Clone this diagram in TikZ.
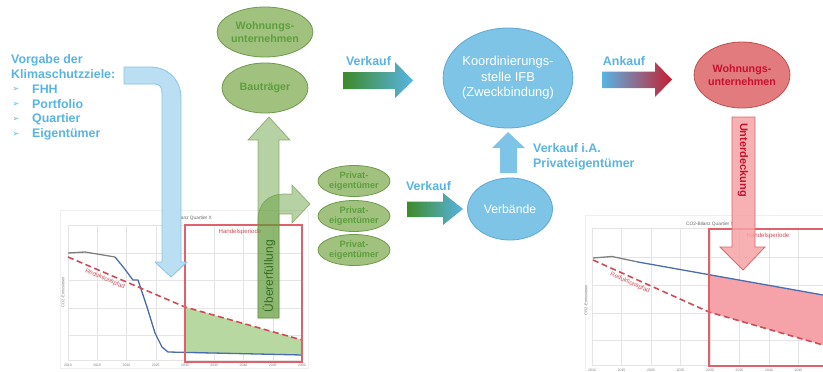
\documentclass[tikz,border=0pt]{standalone}
\usepackage{fontspec}
\setmainfont{Liberation Sans}
\newfontfamily\dejavu{DejaVu Sans}
\usetikzlibrary{shapes.geometric}
\definecolor{txtblue}{HTML}{58B4E4}
\definecolor{bfill}{HTML}{7DC4E7}
\definecolor{bdraw}{HTML}{5FA9D3}
\definecolor{lbfill}{HTML}{BADFF3}
\definecolor{lbdraw}{HTML}{86C4E6}
\definecolor{gfill}{HTML}{A0C27E}
\definecolor{gdraw}{HTML}{6E9A4C}
\definecolor{gtext}{HTML}{5E9E3E}
\definecolor{garrow}{HTML}{5F9A35}
\definecolor{gdark}{HTML}{3F8A2A}
\definecolor{rfill}{HTML}{E27B7D}
\definecolor{rdraw}{HTML}{C0504D}
\definecolor{rtext}{HTML}{C8102E}
\definecolor{rarrow}{HTML}{F6A4A6}
\definecolor{rarrowd}{HTML}{E06666}
\definecolor{rdark}{HTML}{C42030}
\definecolor{cred}{HTML}{D24A55}
\definecolor{rectred}{HTML}{E0606C}
\definecolor{cblue}{HTML}{4B6DB0}
\definecolor{cgray}{HTML}{7F7F7F}
\definecolor{gridc}{HTML}{E4E4E4}
\definecolor{greenarea}{HTML}{B7D8A0}
\definecolor{redarea}{HTML}{F5A3A8}
\begin{document}
\begin{tikzpicture}[x=1pt,y=-1pt,
  ell/.style={ellipse, inner sep=0pt, align=center, line width=0.8pt},
  gell/.style={ell, fill=gfill, draw=gdraw, text=gtext, font=\bfseries\fontsize{10.7}{13.5}\selectfont, minimum width=86pt, minimum height=50pt},
  pell/.style={ell, fill=gfill, draw=gdraw, text=gtext, font=\bfseries\fontsize{9.2}{10.5}\selectfont, minimum width=72pt, minimum height=31pt},
  bell/.style={ell, fill=bfill, draw=bdraw, text=white, font=\fontsize{12.9}{15.5}\selectfont},
  lbl/.style={text=txtblue, font=\bfseries\fontsize{12.4}{14.5}\selectfont, inner sep=0pt, align=left},
  tiny/.style={text=cgray, font=\fontsize{3.5}{4}\selectfont, inner sep=0pt},
  ctitle/.style={text=cgray!80!black, font=\fontsize{4.8}{5}\selectfont, inner sep=0pt},
  redsmall/.style={text=cred, font=\fontsize{6.1}{6.5}\selectfont, inner sep=0pt},
  gridline/.style={draw=gridc, line width=0.5pt},
  dashline/.style={draw=cred, line width=1.6pt, dash pattern=on 6pt off 3.5pt},
  curve/.style={line width=1.3pt, line join=round},
  hrect/.style={draw=rectred, line width=1.1pt},
  garr/.style={fill=garrow, fill opacity=0.45, draw=gdraw, draw opacity=0.7, line width=0.7pt}
]
\useasboundingbox (0,0) rectangle (823,372);
\fill[white] (0,0) rectangle (823,372);

% ===== Left chart =====
\draw[draw=gridc!60, fill=white] (60,210) rectangle (308,368);
\foreach \yy in {225,253,280,308,335,360} \draw[gridline] (68,\yy) -- (302,\yy);
\foreach \k [evaluate=\k as \xx using 68+29.25*\k, evaluate=\k as \yr using int(2010+5*\k)] in {0,...,8} {
  \draw[gridline] (\xx,225) -- (\xx,360);
  \node[tiny] (lt\k) at (\xx,365) {\yr};
}
\node[ctitle] (ltitle) at (188,218) {CO2-Bilanz Quartier X};
\node[tiny, font=\fontsize{4}{4}\selectfont, rotate=90] (lylab) at (63,292) {CO2-Emissionen};
\fill[greenarea] (185,307) -- (302,340) -- (302,355) -- (185,353) -- cycle;
\draw[curve, cgray] (68,253) -- (85,252) -- (115,257);
\draw[curve, cblue] (115,257) -- (124,268) -- (133,280) -- (138,280) -- (147,307) -- (155,333) -- (162,347) -- (168,352) -- (302,355);
\draw[dashline] (68,257) -- (185,307) -- (302,340);
\node[redsmall, rotate=-23] (lred) at (105,279) {Reduktionspfad};
\draw[hrect] (185,225) rectangle (302,362);
\node[redsmall] (lhp) at (240,232) {Handelsperiode};

% ===== Right chart =====
\draw[draw=gridc!60, fill=white] (585,215) rectangle (823,372);
\foreach \yy in {228,257,285,313,340,365} \draw[gridline] (592,\yy) -- (823,\yy);
\foreach \k [evaluate=\k as \xx using 592+29.5*\k, evaluate=\k as \yr using int(2010+5*\k)] in {0,...,7} {
  \draw[gridline] (\xx,228) -- (\xx,365);
  \node[tiny] (rt\k) at (\xx,370) {\yr};
}
\node[ctitle] (rtitle) at (710,224) {CO2-Bilanz Quartier Y};
\node[tiny, font=\fontsize{4}{4}\selectfont, rotate=90] (rylab) at (586,300) {CO2-Emissionen};
\fill[redarea] (709,274.5) -- (823,295) -- (823,345) -- (709,312) -- cycle;
\draw[curve, cgray] (593,258) -- (612,256.5) -- (638,262);
\draw[curve, cblue] (638,262) -- (823,295);
\draw[dashline] (593,260) -- (709,312) -- (823,345);
\node[redsmall, rotate=-24] (rred) at (630,283) {Reduktionspfad};
\draw[hrect] (824,229) -- (709,229) -- (709,366) -- (824,366);
\node[redsmall] (rhp) at (768,236) {Handelsperiode};

% ===== Left text =====
\node[lbl, anchor=west] (vorgabe) at (11,66.5) {Vorgabe der\\Klimaschutzziele:};
\foreach \t/\yy/\nm in {FHH/89/a, Portfolio/104/b, Quartier/119/c, Eigentümer/134/d} {
  \node[text=txtblue, font=\dejavu\fontsize{8}{9}\selectfont, inner sep=0pt] (bul\nm) at (16,\yy) {➢};
  \node[lbl, anchor=west] (item\nm) at (32,\yy) {\t};
}

% ===== Blue bent arrow =====
\draw[fill=lbfill, draw=lbdraw, line width=0.8pt, line join=round]
  (124,67) -- (150,67) .. controls (168,67) and (181,80) .. (181,98)
  -- (181,262) -- (187,262) -- (171,277) -- (155,262) -- (162,262)
  -- (162,93) .. controls (162,87) and (160,84) .. (154,84) -- (124,84) -- cycle;

% ===== Green ellipses =====
\node[gell] (wu1) at (265,32) {Wohnungs-\\unternehmen};
\node[gell] (bt) at (265,88) {Bauträger};
\node[pell] (pe1) at (354,181) {Privat-\\eigentümer};
\node[pell] (pe2) at (354,216) {Privat-\\eigentümer};
\node[pell] (pe3) at (354,250) {Privat-\\eigentümer};

% ===== Green arrows =====
\path[garr] (258,318) -- (258,140) -- (248,140) -- (269,117) -- (290,140) -- (279,140) -- (279,318) -- cycle;
\path[garr] (258,318) -- (258,220) .. controls (258,204) and (268,194) .. (284,194)
  -- (292,194) -- (292,185) -- (310,204) -- (292,223) -- (292,214) -- (279,214) -- (279,318) -- cycle;
\node[text=gdark!80!black, font=\fontsize{12}{12}\selectfont, rotate=90, inner sep=0pt] (ueber) at (269,276) {Übererfüllung};

% ===== Blue ellipses =====
\node[bell, minimum width=118pt, minimum height=100pt] (ks) at (508,78) {Koordinierungs-\\stelle IFB\\(Zweckbindung)};
\node[bell, minimum width=85pt, minimum height=62pt, font=\fontsize{12.2}{14}\selectfont] (vb) at (510,209) {Verbände};

% ===== Verkauf arrows =====
\shade[left color=gdark, right color=txtblue] (343,72) -- (395,72) -- (395,62) -- (413,80.5) -- (395,98) -- (395,89) -- (343,89) -- cycle;
\node[lbl] (vk1) at (368.5,61) {Verkauf};
\shade[left color=gdark, right color=txtblue] (407,201.5) -- (443,201.5) -- (443,193) -- (463,209) -- (443,225) -- (443,217) -- (407,217) -- cycle;
\node[lbl] (vk2) at (428.5,186) {Verkauf};
\fill[bfill] (500,173) -- (500,148) -- (492,148) -- (508,132) -- (525,148) -- (517,148) -- (517,173) -- cycle;
\node[lbl, anchor=west] (vkia) at (533,157) {Verkauf i.A.\\Privateigentümer};

% ===== Ankauf =====
\shade[left color=txtblue, right color=rdark] (602,71.5) -- (655,71.5) -- (655,62) -- (672,79.5) -- (655,97) -- (655,88) -- (602,88) -- cycle;
\node[lbl] (ak) at (624,61) {Ankauf};
\node[ell, fill=rfill, draw=rdraw, text=rtext, font=\bfseries\fontsize{10.7}{13.5}\selectfont, minimum width=83pt, minimum height=66pt] (wu2) at (742,75) {Wohnungs-\\unternehmen};

% ===== Red down arrow =====
\path[fill=rarrow, fill opacity=0.85, draw=rarrowd, line width=0.8pt]
  (732,117) -- (755,117) -- (755,247) -- (765,247) -- (743,270) -- (720,247) -- (732,247) -- cycle;
\node[text=rtext, font=\bfseries\fontsize{11}{11}\selectfont, rotate=-90, inner sep=0pt] (unter) at (743,160) {Unterdeckung};
\end{tikzpicture}
\end{document}
